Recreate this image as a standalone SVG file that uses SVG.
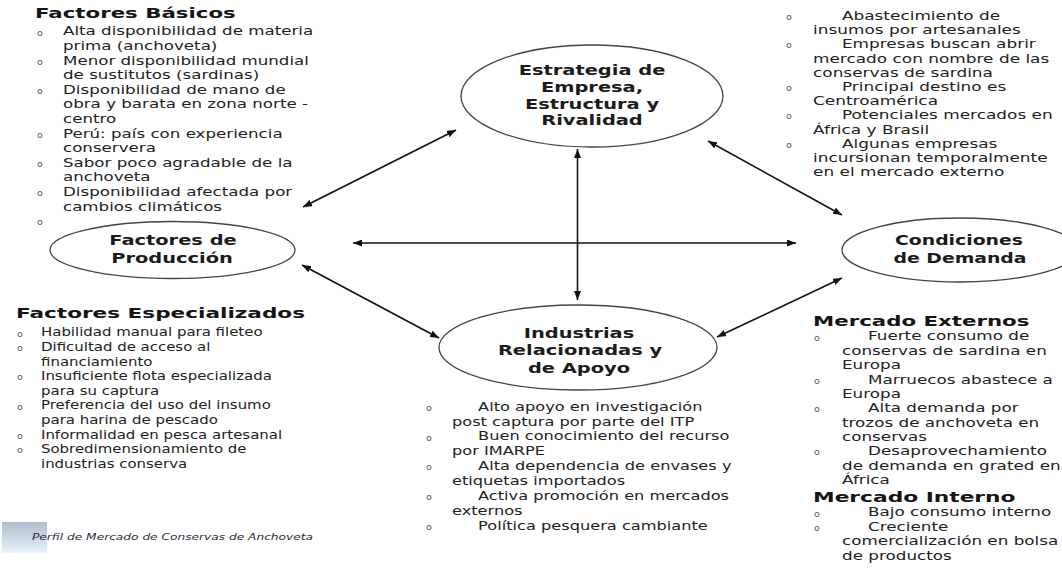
<svg xmlns="http://www.w3.org/2000/svg" width="1062" height="571" viewBox="0 0 1062 571">
<style>
.t{font-family:"DejaVu Sans",Verdana,sans-serif;font-size:12px;fill:#222}
.t3{font-family:"DejaVu Sans",Verdana,sans-serif;font-size:11.5px;fill:#222}
.h{font-family:"DejaVu Sans",Verdana,sans-serif;font-size:14.5px;font-weight:bold;fill:#151515}
.n{font-family:"DejaVu Sans",Verdana,sans-serif;font-size:14.5px;font-weight:bold;fill:#1c1c1c;text-anchor:middle}
.b{font-family:"DejaVu Sans",Verdana,sans-serif;font-size:9.5px;fill:#555}
.el{fill:#fff;stroke:#444;stroke-width:1.3}
.c{stroke:#111;stroke-width:1.6;fill:none;marker-start:url(#ah);marker-end:url(#ah)}
.logo{font-family:"DejaVu Sans",Verdana,sans-serif;font-size:8.5px;font-style:italic;fill:#2a2a3a}
</style>
<defs>
<marker id="ah" viewBox="0 0 9 7" refX="9" refY="3.5" markerWidth="9" markerHeight="7" markerUnits="userSpaceOnUse" orient="auto-start-reverse">
<path d="M0,0 L9,3.5 L0,7 z" fill="#111"/>
</marker>
<linearGradient id="lg" x1="0" y1="0" x2="0" y2="1">
<stop offset="0" stop-color="#9fb3c6"/>
<stop offset="0.6" stop-color="#c9d6e0"/>
<stop offset="1" stop-color="#e3f6f8"/>
</linearGradient>
</defs>
<rect width="1062" height="571" fill="#fff"/>

<!-- connectors -->
<g id="connectors">
<line class="c" x1="577.5" y1="149" x2="577.5" y2="300"/>
<line class="c" x1="353" y1="243" x2="796" y2="243"/>
<line class="c" x1="303" y1="207" x2="456" y2="130"/>
<line class="c" x1="708" y1="141" x2="842" y2="215"/>
<line class="c" x1="302" y1="265" x2="439" y2="338"/>
<line class="c" x1="717" y1="337" x2="842" y2="278"/>
</g>

<!-- nodes -->
<g id="node-estrategia">
<ellipse class="el" cx="592" cy="96" rx="131" ry="51"/>
<text class="n" transform="translate(592,74.5) scale(1.34,1)">Estrategia de</text>
<text class="n" transform="translate(592,91.5) scale(1.34,1)">Empresa,</text>
<text class="n" transform="translate(592,108.5) scale(1.34,1)">Estructura y</text>
<text class="n" transform="translate(592,125) scale(1.34,1)">Rivalidad</text>
</g>
<g id="node-factores">
<ellipse class="el" cx="172.5" cy="250" rx="122.5" ry="28.5"/>
<text class="n" transform="translate(173,245) scale(1.34,1)">Factores de</text>
<text class="n" transform="translate(172,263) scale(1.34,1)">Producción</text>
</g>
<g id="node-condiciones">
<ellipse class="el" cx="960" cy="250" rx="118" ry="32"/>
<text class="n" transform="translate(959,245) scale(1.3,1)">Condiciones</text>
<text class="n" transform="translate(960,263) scale(1.3,1)">de Demanda</text>
</g>
<g id="node-industrias">
<ellipse class="el" cx="578" cy="347.5" rx="139" ry="42.5"/>
<text class="n" transform="translate(579,337.5) scale(1.34,1)">Industrias</text>
<text class="n" transform="translate(580,355) scale(1.34,1)">Relacionadas y</text>
<text class="n" transform="translate(579,373) scale(1.34,1)">de Apoyo</text>
</g>

<!-- Factores Básicos -->
<g id="factores-basicos">
<text class="h" transform="translate(35,18) scale(1.47,1)">Factores Básicos</text>
<text class="b" x="37" y="35.5">o</text>
<text class="b" x="37" y="64.7">o</text>
<text class="b" x="37" y="93.9">o</text>
<text class="b" x="37" y="137.7">o</text>
<text class="b" x="37" y="166.9">o</text>
<text class="b" x="37" y="196.1">o</text>
<text class="b" x="37" y="225.3">o</text>
<g transform="translate(63,0) scale(1.39,1)">
<text class="t" x="0" y="35.5">Alta disponibilidad de materia</text>
<text class="t" x="0" y="50.1">prima (anchoveta)</text>
<text class="t" x="0" y="64.7">Menor disponibilidad mundial</text>
<text class="t" x="0" y="79.3">de sustitutos (sardinas)</text>
<text class="t" x="0" y="93.9">Disponibilidad de mano de</text>
<text class="t" x="0" y="108.5">obra y barata en zona norte -</text>
<text class="t" x="0" y="123.1">centro</text>
<text class="t" x="0" y="137.7">Perú: país con experiencia</text>
<text class="t" x="0" y="152.3">conservera</text>
<text class="t" x="0" y="166.9">Sabor poco agradable de la</text>
<text class="t" x="0" y="181.5">anchoveta</text>
<text class="t" x="0" y="196.1">Disponibilidad afectada por</text>
<text class="t" x="0" y="210.7">cambios climáticos</text>
</g>
</g>

<!-- Estrategia notes (top right) -->
<g id="estrategia-notas">
<text class="b" x="786" y="20">o</text>
<text class="b" x="786" y="48.4">o</text>
<text class="b" x="786" y="91">o</text>
<text class="b" x="786" y="119.4">o</text>
<text class="b" x="786" y="147.8">o</text>
<g transform="translate(813,0) scale(1.41,1)">
<text class="t" x="20.5" y="20">Abastecimiento de</text>
<text class="t" x="0" y="34.2">insumos por artesanales</text>
<text class="t" x="20.5" y="48.4">Empresas buscan abrir</text>
<text class="t" x="0" y="62.6">mercado con nombre de las</text>
<text class="t" x="0" y="76.8">conservas de sardina</text>
<text class="t" x="20.5" y="91">Principal destino es</text>
<text class="t" x="0" y="105.2">Centroamérica</text>
<text class="t" x="20.5" y="119.4">Potenciales mercados en</text>
<text class="t" x="0" y="133.6">África y Brasil</text>
<text class="t" x="20.5" y="147.8">Algunas empresas</text>
<text class="t" x="0" y="162">incursionan temporalmente</text>
<text class="t" x="0" y="176.2">en el mercado externo</text>
</g>
</g>

<!-- Factores Especializados -->
<g id="factores-especializados">
<text class="h" transform="translate(16,318) scale(1.49,1)">Factores Especializados</text>
<text class="b" x="17" y="336.5">o</text>
<text class="b" x="17" y="351.1">o</text>
<text class="b" x="17" y="380.3">o</text>
<text class="b" x="17" y="409.5">o</text>
<text class="b" x="17" y="438.7">o</text>
<text class="b" x="17" y="453.3">o</text>
<g transform="translate(41,0) scale(1.3,1)">
<text class="t3" x="0" y="336.5">Habilidad manual para fileteo</text>
<text class="t3" x="0" y="351.1">Dificultad de acceso al</text>
<text class="t3" x="0" y="365.7">financiamiento</text>
<text class="t3" x="0" y="380.3">Insuficiente flota especializada</text>
<text class="t3" x="0" y="394.9">para su captura</text>
<text class="t3" x="0" y="409.5">Preferencia del uso del insumo</text>
<text class="t3" x="0" y="424.1">para harina de pescado</text>
<text class="t3" x="0" y="438.7">Informalidad en pesca artesanal</text>
<text class="t3" x="0" y="453.3">Sobredimensionamiento de</text>
<text class="t3" x="0" y="467.9">industrias conserva</text>
</g>
</g>

<!-- Industrias notes -->
<g id="industrias-notas">
<text class="b" x="426" y="410.7">o</text>
<text class="b" x="426" y="440.5">o</text>
<text class="b" x="426" y="470.3">o</text>
<text class="b" x="426" y="500.1">o</text>
<text class="b" x="426" y="529.9">o</text>
<g transform="translate(452,0) scale(1.35,1)">
<text class="t" x="19.3" y="410.7">Alto apoyo en investigación</text>
<text class="t" x="0" y="425.6">post captura por parte del ITP</text>
<text class="t" x="19.3" y="440.5">Buen conocimiento del recurso</text>
<text class="t" x="0" y="455.4">por IMARPE</text>
<text class="t" x="19.3" y="470.3">Alta dependencia de envases y</text>
<text class="t" x="0" y="485.2">etiquetas importados</text>
<text class="t" x="19.3" y="500.1">Activa promoción en mercados</text>
<text class="t" x="0" y="515">externos</text>
<text class="t" x="19.3" y="529.9">Política pesquera cambiante</text>
</g>
</g>

<!-- Demanda notes -->
<g id="demanda-notas">
<text class="h" transform="translate(813,326) scale(1.47,1)">Mercado Externos</text>
<text class="h" transform="translate(813,501.5) scale(1.5,1)">Mercado Interno</text>
<text class="b" x="814" y="340.5">o</text>
<text class="b" x="814" y="383.55">o</text>
<text class="b" x="814" y="412.25">o</text>
<text class="b" x="814" y="455.3">o</text>
<text class="b" x="814" y="516.5">o</text>
<text class="b" x="814" y="530.85">o</text>
<g transform="translate(842,0) scale(1.4,1)">
<text class="t" x="18.6" y="340.5">Fuerte consumo de</text>
<text class="t" x="0" y="354.85">conservas de sardina en</text>
<text class="t" x="0" y="369.2">Europa</text>
<text class="t" x="18.6" y="383.55">Marruecos abastece a</text>
<text class="t" x="0" y="397.9">Europa</text>
<text class="t" x="18.6" y="412.25">Alta demanda por</text>
<text class="t" x="0" y="426.6">trozos de anchoveta en</text>
<text class="t" x="0" y="440.95">conservas</text>
<text class="t" x="18.6" y="455.3">Desaprovechamiento</text>
<text class="t" x="0" y="469.65">de demanda en grated en</text>
<text class="t" x="0" y="484">África</text>
<text class="t" x="18.6" y="516.5">Bajo consumo interno</text>
<text class="t" x="18.6" y="530.85">Creciente</text>
<text class="t" x="0" y="545.2">comercialización en bolsa</text>
<text class="t" x="0" y="559.55">de productos</text>
</g>
</g>

<!-- footer logo -->
<g id="footer">
<rect x="2" y="522" width="45" height="31" fill="url(#lg)" opacity="0.85"/>
<text class="logo" x="32" y="540" textLength="281" lengthAdjust="spacingAndGlyphs">Perfil de Mercado de Conservas de Anchoveta</text>
</g>
</svg>
